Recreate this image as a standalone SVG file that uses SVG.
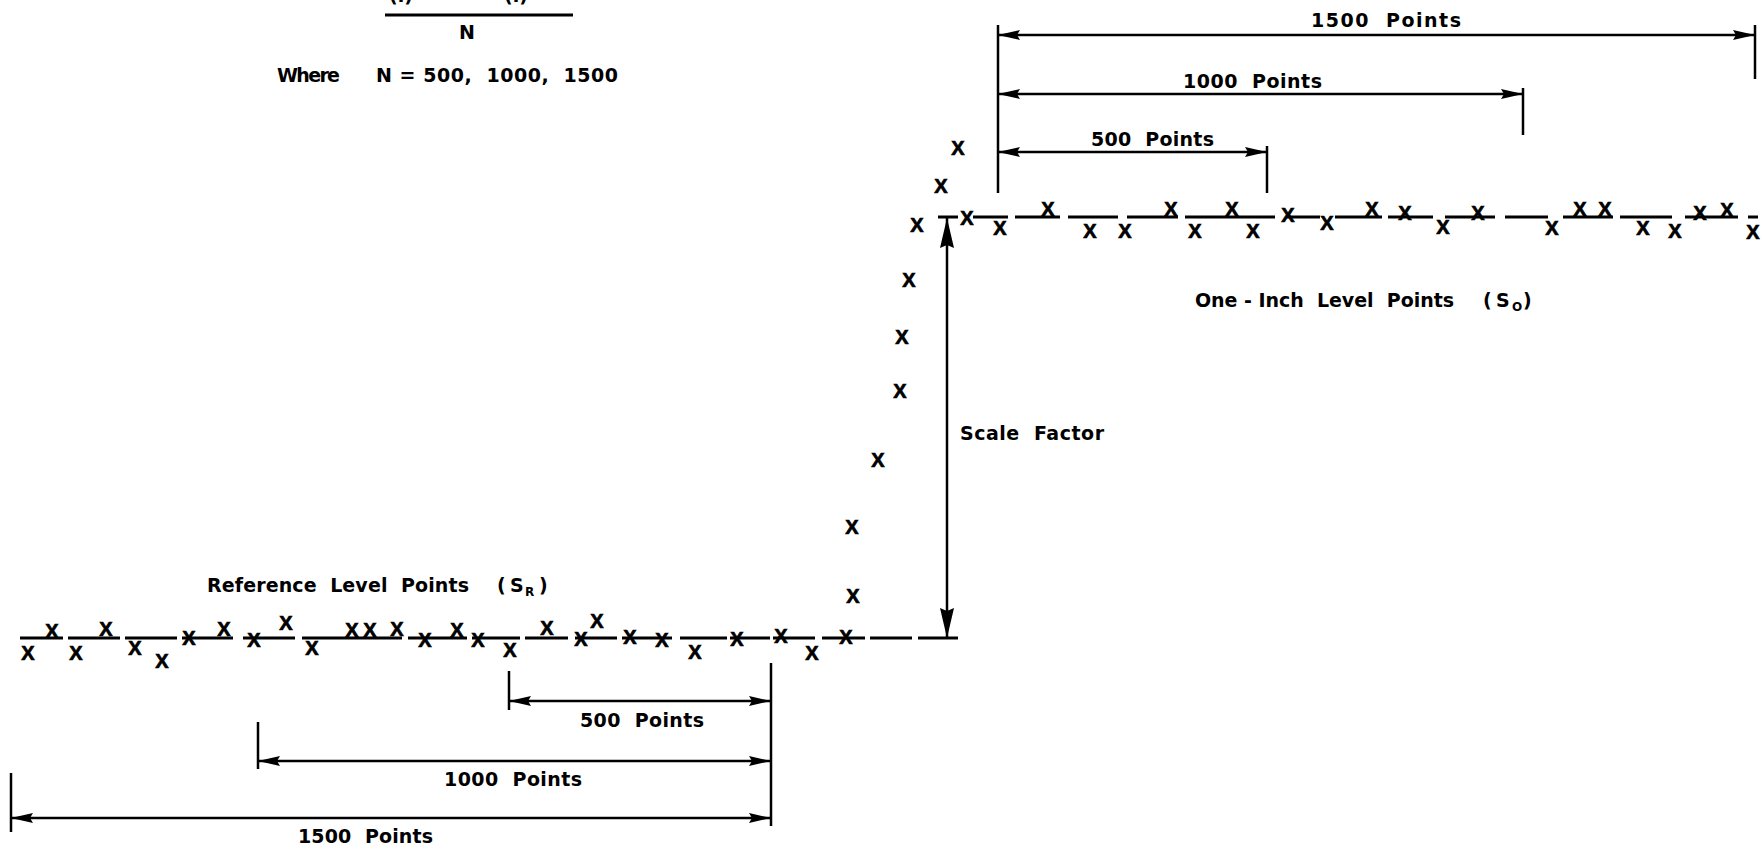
<svg xmlns="http://www.w3.org/2000/svg" width="1762" height="848" viewBox="0 0 1762 848" xml:space="preserve">
<style>
.lbl{font-family:"DejaVu Sans","Liberation Sans",Arial,sans-serif;font-weight:bold;font-size:19px;fill:#000;white-space:pre}
.x{font-family:"Liberation Sans Narrow","Liberation Sans",Arial,sans-serif;font-weight:bold;font-size:20px;fill:#000;stroke:#000;stroke-width:0.7;text-anchor:middle}
.lvl{stroke:#000;stroke-width:3;fill:none}
.dim{stroke:#000;stroke-width:2.5;fill:none}
.ext{stroke:#000;stroke-width:2.5;fill:none}
</style>
<defs>
<marker id="ah" viewBox="0 0 22 10" refX="22" refY="5" markerWidth="22" markerHeight="10" markerUnits="userSpaceOnUse" orient="auto-start-reverse">
<path d="M0,0 L22,5 L0,10 L3,5 z" fill="#000"/>
</marker>
<marker id="ahv" viewBox="0 0 30 14" refX="30" refY="7" markerWidth="30" markerHeight="14" markerUnits="userSpaceOnUse" orient="auto-start-reverse">
<path d="M0,0 L30,7 L0,14 L3,7 z" fill="#000"/>
</marker>
</defs>
<rect x="0" y="0" width="1762" height="848" fill="#fff"/>

<g id="formula">
<text class="lbl" x="401" y="2" font-size="13" text-anchor="middle">(i)</text>
<text class="lbl" x="516" y="2" font-size="13" text-anchor="middle">(i)</text>
<line x1="385" y1="15" x2="573" y2="15" stroke="#000" stroke-width="3"/>
<text class="lbl" x="467" y="39" font-size="17" text-anchor="middle">N</text>
<text class="lbl" x="277" y="82" font-size="18" textLength="63" lengthAdjust="spacing">Where</text>
<text class="lbl" x="376" y="82" font-size="18" textLength="242" lengthAdjust="spacing">N = 500,  1000,  1500</text>
</g>

<g id="level-lines">
<g id="reference-level">
<path class="lvl" d="M20,638H63 M68,638H120 M125,638H177 M182,638H233 M243,638H295 M302,638H402 M408,638H467 M472,638H520 M525,638H568 M575,638H617 M622,638H672 M680,638H727 M730,638H770 M773,638H815 M822,638H865 M870,638H912 M918,638H958"/>
</g>
<g id="one-inch-level">
<path class="lvl" d="M938,217H958 M973,217H1008 M1015,217H1060 M1068,217H1118 M1127,217H1178 M1185,217H1275 M1287,217H1320 M1335,217H1382 M1388,217H1433 M1445,217H1495 M1505,217H1548 M1563,217H1613 M1620,217H1672 M1685,217H1738 M1748,217H1758"/>
</g>
</g>

<g id="points">
<g id="reference-points">
<text class="x" x="28" y="660">X</text><text class="x" x="52" y="638">X</text><text class="x" x="76" y="660">X</text><text class="x" x="106" y="636">X</text>
<text class="x" x="135" y="655">X</text><text class="x" x="162" y="668">X</text><text class="x" x="189" y="645">X</text><text class="x" x="224" y="636">X</text>
<text class="x" x="254" y="647">X</text><text class="x" x="286" y="630">X</text><text class="x" x="312" y="655">X</text><text class="x" x="352" y="637">X</text>
<text class="x" x="370" y="637">X</text><text class="x" x="397" y="636">X</text><text class="x" x="425" y="647">X</text><text class="x" x="457" y="637">X</text>
<text class="x" x="478" y="647">X</text><text class="x" x="510" y="657">X</text><text class="x" x="547" y="635">X</text><text class="x" x="581" y="646">X</text>
<text class="x" x="597" y="628">X</text><text class="x" x="630" y="644">X</text><text class="x" x="662" y="647">X</text><text class="x" x="695" y="659">X</text>
<text class="x" x="737" y="646">X</text><text class="x" x="781" y="643">X</text><text class="x" x="812" y="660">X</text><text class="x" x="846" y="644">X</text>
</g>
<g id="transition-points">
<text class="x" x="853" y="603">X</text><text class="x" x="852" y="534">X</text><text class="x" x="878" y="467">X</text><text class="x" x="900" y="398">X</text>
<text class="x" x="902" y="344">X</text><text class="x" x="909" y="287">X</text><text class="x" x="917" y="232">X</text><text class="x" x="941" y="193">X</text>
<text class="x" x="958" y="155">X</text>
</g>
<g id="one-inch-points">
<text class="x" x="967" y="225">X</text><text class="x" x="1000" y="235">X</text><text class="x" x="1048" y="216">X</text><text class="x" x="1090" y="238">X</text>
<text class="x" x="1125" y="238">X</text><text class="x" x="1171" y="216">X</text><text class="x" x="1195" y="238">X</text><text class="x" x="1232" y="216">X</text>
<text class="x" x="1253" y="238">X</text><text class="x" x="1288" y="222">X</text><text class="x" x="1327" y="230">X</text><text class="x" x="1372" y="216">X</text>
<text class="x" x="1405" y="220">X</text><text class="x" x="1443" y="234">X</text><text class="x" x="1478" y="220">X</text><text class="x" x="1552" y="235">X</text>
<text class="x" x="1580" y="216">X</text><text class="x" x="1605" y="216">X</text><text class="x" x="1643" y="235">X</text><text class="x" x="1675" y="238">X</text>
<text class="x" x="1700" y="220">X</text><text class="x" x="1727" y="217">X</text><text class="x" x="1753" y="239">X</text>
</g>
</g>

<g id="labels">
<text class="lbl" x="207" y="592" textLength="262" lengthAdjust="spacing">Reference  Level  Points</text>
<text class="lbl" x="497" y="592">(<tspan x="510">S</tspan><tspan x="525" dy="4" font-size="12">R</tspan><tspan x="539" dy="-4">)</tspan></text>
<text class="lbl" x="1195" y="307" textLength="259" lengthAdjust="spacing">One - Inch  Level  Points</text>
<text class="lbl" x="1483" y="307">(<tspan x="1496">S</tspan><tspan x="1512" dy="4" font-size="12">O</tspan><tspan x="1523" dy="-4">)</tspan></text>
<text class="lbl" x="960" y="440" textLength="144" lengthAdjust="spacing">Scale  Factor</text>
</g>

<g id="top-dimensions">
<path class="ext" d="M998,25V193 M1755,25V79 M1523,88V135 M1267,146V193"/>
<text class="lbl" x="1311" y="27" textLength="150" lengthAdjust="spacing">1500  Points</text>
<text class="lbl" x="1183" y="88" textLength="139" lengthAdjust="spacing">1000  Points</text>
<text class="lbl" x="1091" y="146" textLength="123" lengthAdjust="spacing">500  Points</text>
</g>

<g id="bottom-dimensions">
<path class="ext" d="M509,671V710 M258,722V769 M11,773V832 M771,663V826"/>
<text class="lbl" x="580" y="727" textLength="124" lengthAdjust="spacing">500  Points</text>
<text class="lbl" x="444" y="786" textLength="138" lengthAdjust="spacing">1000  Points</text>
<text class="lbl" x="298" y="843" textLength="135" lengthAdjust="spacing">1500  Points</text>
</g>

<g id="connectors">
<line class="dim" x1="998" y1="35" x2="1755" y2="35" marker-start="url(#ah)" marker-end="url(#ah)"/>
<line class="dim" x1="998" y1="94" x2="1523" y2="94" marker-start="url(#ah)" marker-end="url(#ah)"/>
<line class="dim" x1="998" y1="152" x2="1267" y2="152" marker-start="url(#ah)" marker-end="url(#ah)"/>
<line class="dim" x1="509" y1="701" x2="771" y2="701" marker-start="url(#ah)" marker-end="url(#ah)"/>
<line class="dim" x1="258" y1="761" x2="771" y2="761" marker-start="url(#ah)" marker-end="url(#ah)"/>
<line class="dim" x1="11" y1="818" x2="771" y2="818" marker-start="url(#ah)" marker-end="url(#ah)"/>
<line class="dim" x1="947" y1="218" x2="947" y2="638" marker-start="url(#ahv)" marker-end="url(#ahv)"/>
</g>
</svg>
